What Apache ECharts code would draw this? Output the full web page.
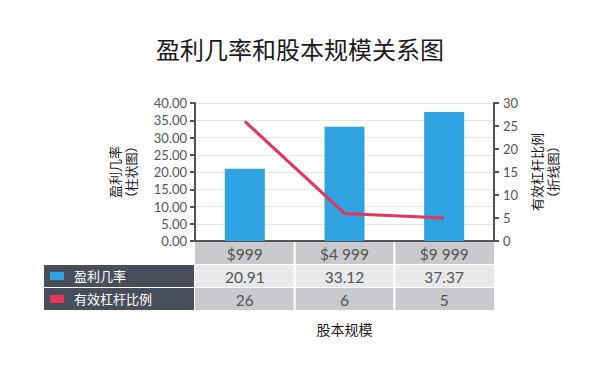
<!DOCTYPE html>
<html>
<head>
<meta charset="utf-8">
<script src="https://cdn.jsdelivr.net/npm/echarts@6/dist/echarts.min.js"></script>
<style>html,body{margin:0;padding:0;background:#fff;}#c{width:600px;height:391px;}</style>
</head>
<body>
<div id="c"></div>
<script>
const titleText = '盈利几率和股本规模关系图';
const categories = ['$999', '$4 999', '$9 999'];
const winRate = [20.91, 33.12, 37.37];
const leverage = [26, 6, 5];
const seriesNames = ['盈利几率', '有效杠杆比例'];
const tableRows = [winRate.map(v => v.toFixed(2)), leverage.map(v => String(v))];
const xAxisName = '股本规模';
const leftAxisName = '盈利几率\n（柱状图）';
const rightAxisName = '有效杠杆比例\n（折线图）';
const leftAxis = { min: 0, max: 40, interval: 5 };
const rightAxis = { min: 0, max: 30, interval: 5 };

const colors = ['#2fa2e1', '#e8345c'];
const FONT = 'Lato, "Noto Sans CJK SC", sans-serif';
const CJK = '"Noto Sans CJK SC", sans-serif';

const chart = echarts.init(document.getElementById('c'), null, { renderer: 'svg' });
chart.setOption({
  backgroundColor: '#fff',
  animation: false,
  title: {
    text: titleText, left: 'center', top: 32,
    textStyle: { fontSize: 24, fontWeight: 'normal', color: '#1a1a1a', fontFamily: FONT }
  },
  grid: { left: 195, right: 106, top: 103, bottom: 150 },
  xAxis: {
    type: 'category', data: categories,
    axisLine: { show: true, lineStyle: { color: '#555', width: 2 } },
    axisTick: { show: false }, axisLabel: { show: false },
    name: xAxisName, nameLocation: 'middle', nameGap: 81,
    nameTextStyle: { fontSize: 14, color: '#1a1a1a', fontFamily: FONT }
  },
  yAxis: [
    {
      type: 'value', min: leftAxis.min, max: leftAxis.max, interval: leftAxis.interval,
      axisLine: { show: true, lineStyle: { color: '#555', width: 2 } },
      axisTick: { show: true, length: 5, lineStyle: { color: '#555', width: 2 } },
      axisLabel: { formatter: v => v.toFixed(2), color: '#555', fontSize: 13, fontFamily: FONT, margin: 8 },
      splitLine: { show: true, lineStyle: { color: '#e6e6e6', width: 1 } },
      name: leftAxisName, nameLocation: 'middle', nameRotate: 90, nameGap: 57,
      nameTextStyle: { fontSize: 13, color: '#1a1a1a', fontFamily: CJK, lineHeight: 16 }
    },
    {
      type: 'value', min: rightAxis.min, max: rightAxis.max, interval: rightAxis.interval,
      position: 'right',
      axisLine: { show: true, lineStyle: { color: '#555', width: 2 } },
      axisTick: { show: true, length: 5, lineStyle: { color: '#555', width: 2 } },
      axisLabel: { color: '#555', fontSize: 13, fontFamily: FONT, margin: 9 },
      splitLine: { show: false },
      name: rightAxisName, nameLocation: 'middle', nameRotate: 90, nameGap: 34,
      nameTextStyle: { fontSize: 13, color: '#1a1a1a', fontFamily: CJK, lineHeight: 16 }
    }
  ],
  series: [
    { name: seriesNames[0], type: 'bar', data: winRate, barWidth: 40, itemStyle: { color: colors[0] }, yAxisIndex: 0 },
    { name: seriesNames[1], type: 'line', data: leverage, yAxisIndex: 1, showSymbol: false, symbol: 'none',
      lineStyle: { color: colors[1], width: 3 }, itemStyle: { color: colors[1] } }
  ]
});

// Build data table under the axis from the axis scales
function buildTable() {
  const centers = categories.map(c => chart.convertToPixel({ xAxisIndex: 0 }, c));
  const bw = centers[1] - centers[0];
  const yb = chart.convertToPixel({ yAxisIndex: 0 }, 0);
  const rowH = 22;
  const els = [];
  const left0 = centers[0] - bw / 2;
  const top0 = yb + 1;
  const cell = (i) => ({ x: centers[i] - bw / 2 + (i ? 1 : 0), w: bw - (i ? 1 : 0) - (i < centers.length - 1 ? 1 : 0) });
  centers.forEach((cx, i) => {
    const c = cell(i);
    els.push({ type: 'rect', shape: { x: c.x, y: top0, width: c.w, height: rowH }, style: { fill: '#c9cacd' } });
    els.push({ type: 'text', x: cx, y: top0 + rowH / 2 + 1, style: { text: categories[i], align: 'center', verticalAlign: 'middle', fill: '#555', fontSize: 15.5, fontFamily: FONT } });
  });
  const rowFills = ['#e8e9eb', '#c9cacd'];
  tableRows.forEach((row, r) => {
    const ty = top0 + (rowH + 1) * (r + 1);
    els.push({ type: 'rect', shape: { x: left0 - 151, y: ty, width: 150, height: rowH }, style: { fill: '#484e5b' } });
    els.push({ type: 'rect', shape: { x: left0 - 145, y: ty + 7, width: 14, height: 8 }, style: { fill: colors[r] } });
    els.push({ type: 'text', x: left0 - 121, y: ty + rowH / 2, style: { text: seriesNames[r], align: 'left', verticalAlign: 'middle', fill: '#fff', fontSize: 13, fontFamily: FONT } });
    centers.forEach((cx, i) => {
      const c = cell(i);
      els.push({ type: 'rect', shape: { x: c.x, y: ty, width: c.w, height: rowH }, style: { fill: rowFills[r] } });
      els.push({ type: 'text', x: cx, y: ty + rowH / 2 + 1, style: { text: row[i], align: 'center', verticalAlign: 'middle', fill: '#555', fontSize: 15.5, fontFamily: FONT } });
    });
  });
  chart.setOption({ graphic: { elements: els } });
}
buildTable();
</script>
</body>
</html>
